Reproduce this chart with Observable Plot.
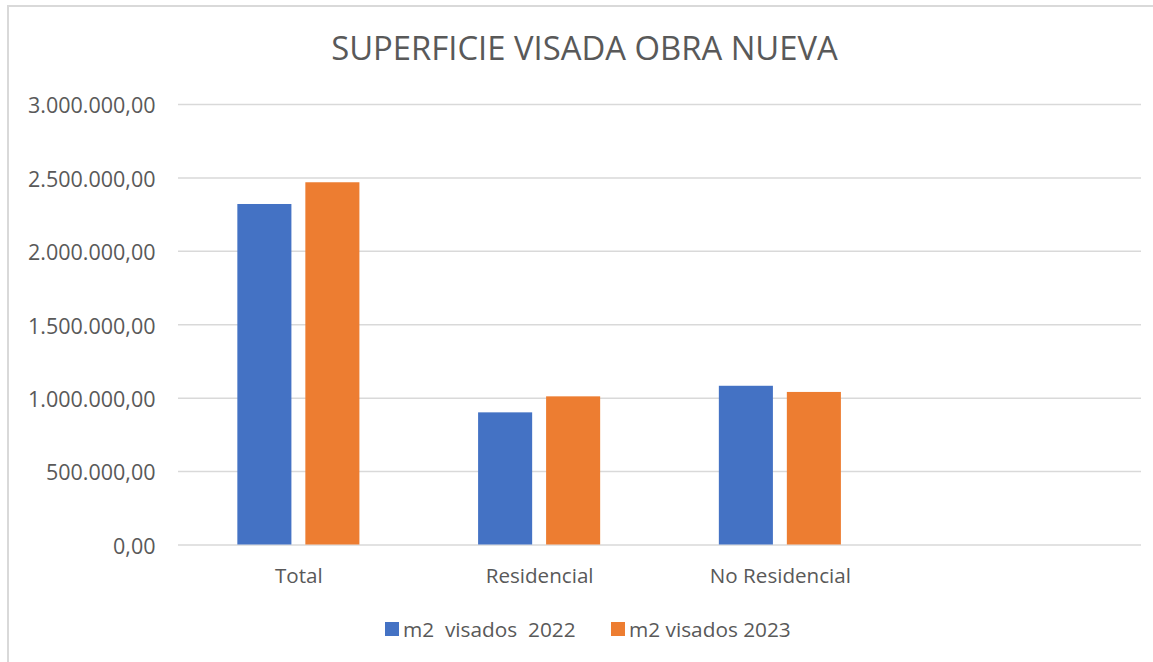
<!DOCTYPE html>
<html><head><meta charset="utf-8">
<script src="https://cdn.jsdelivr.net/npm/d3@7"></script>
<script src="https://cdn.jsdelivr.net/npm/@observablehq/plot@0.6"></script>
<style>
html,body{margin:0;padding:0;width:1153px;height:662px;overflow:hidden;background:#fff;font-family:"Open Sans",sans-serif;color:#595959}
#frame{position:absolute;left:7px;top:5px;width:1160px;height:670px;border-left:2px solid #d9d9d9;border-top:2px solid #d9d9d9;}
#title{position:absolute;left:0;width:1169px;top:32.3px;text-align:center;font-size:32.8px;line-height:32px;white-space:nowrap}
#chart{position:absolute;left:0;top:80px}
.leg{position:absolute;top:619px;height:20px;display:flex;align-items:center;font-size:20.8px;line-height:20px;white-space:pre}
.sw{width:13.5px;height:13.5px;margin-right:4.5px;flex:none}
</style>
</head><body>
<div id="frame"></div>
<div id="title">SUPERFICIE VISADA OBRA NUEVA</div>
<div id="chart"></div>
<div id="legend"></div>
<script>
const categories = ["Total", "Residencial", "No Residencial", ""];
const series = ["m2  visados  2022", "m2 visados 2023"];
const values2022 = [2319000, 900000, 1081000];
const values2023 = [2467000, 1009000, 1039000];
const yTicks = [0, 500000, 1000000, 1500000, 2000000, 2500000, 3000000];
const colors = ["#4472C4", "#ED7D31"];

const es = d3.formatLocale({decimal: ",", thousands: ".", grouping: [3], currency: ["", "€"]});
const fmt = es.format(",.2f");

const d22 = values2022.map((v, i) => ({category: categories[i], value: v, series: series[0]}));
const d23 = values2023.map((v, i) => ({category: categories[i], value: v, series: series[1]}));

const chart = Plot.plot({
  width: 1153,
  height: 505,
  marginTop: 24,
  marginBottom: 40.5,
  marginLeft: 178,
  marginRight: 12,
  style: {fontFamily: "Open Sans", color: "#595959", background: "transparent", overflow: "visible"},
  x: {domain: categories, paddingInner: 0.493, paddingOuter: 0.2465, round: false},
  y: {domain: [0, 3000000]},
  marks: [
    Plot.ruleY(yTicks, {stroke: "#d9d9d9", strokeWidth: 1.5}),
    Plot.barY(d22, {x: "category", y: "value", fill: colors[0], insetRight: 68}),
    Plot.barY(d23, {x: "category", y: "value", fill: colors[1], insetLeft: 68}),
    Plot.axisY(yTicks, {tickSize: 0, tickPadding: 23, tickFormat: fmt, fontSize: 21.5, dy: 2, label: null}),
    Plot.axisX({tickSize: 0, tickPadding: 23.5, fontSize: 20.6, label: null})
  ]
});
document.getElementById("chart").appendChild(chart);

const legendLeft = [385, 611];
const legend = d3.select("#legend");
series.forEach((s, i) => {
  const item = legend.append("div").attr("class", "leg").style("left", legendLeft[i] + "px");
  item.append("div").attr("class", "sw").style("background", colors[i]);
  item.append("span").text(s);
});
</script>
</body></html>
